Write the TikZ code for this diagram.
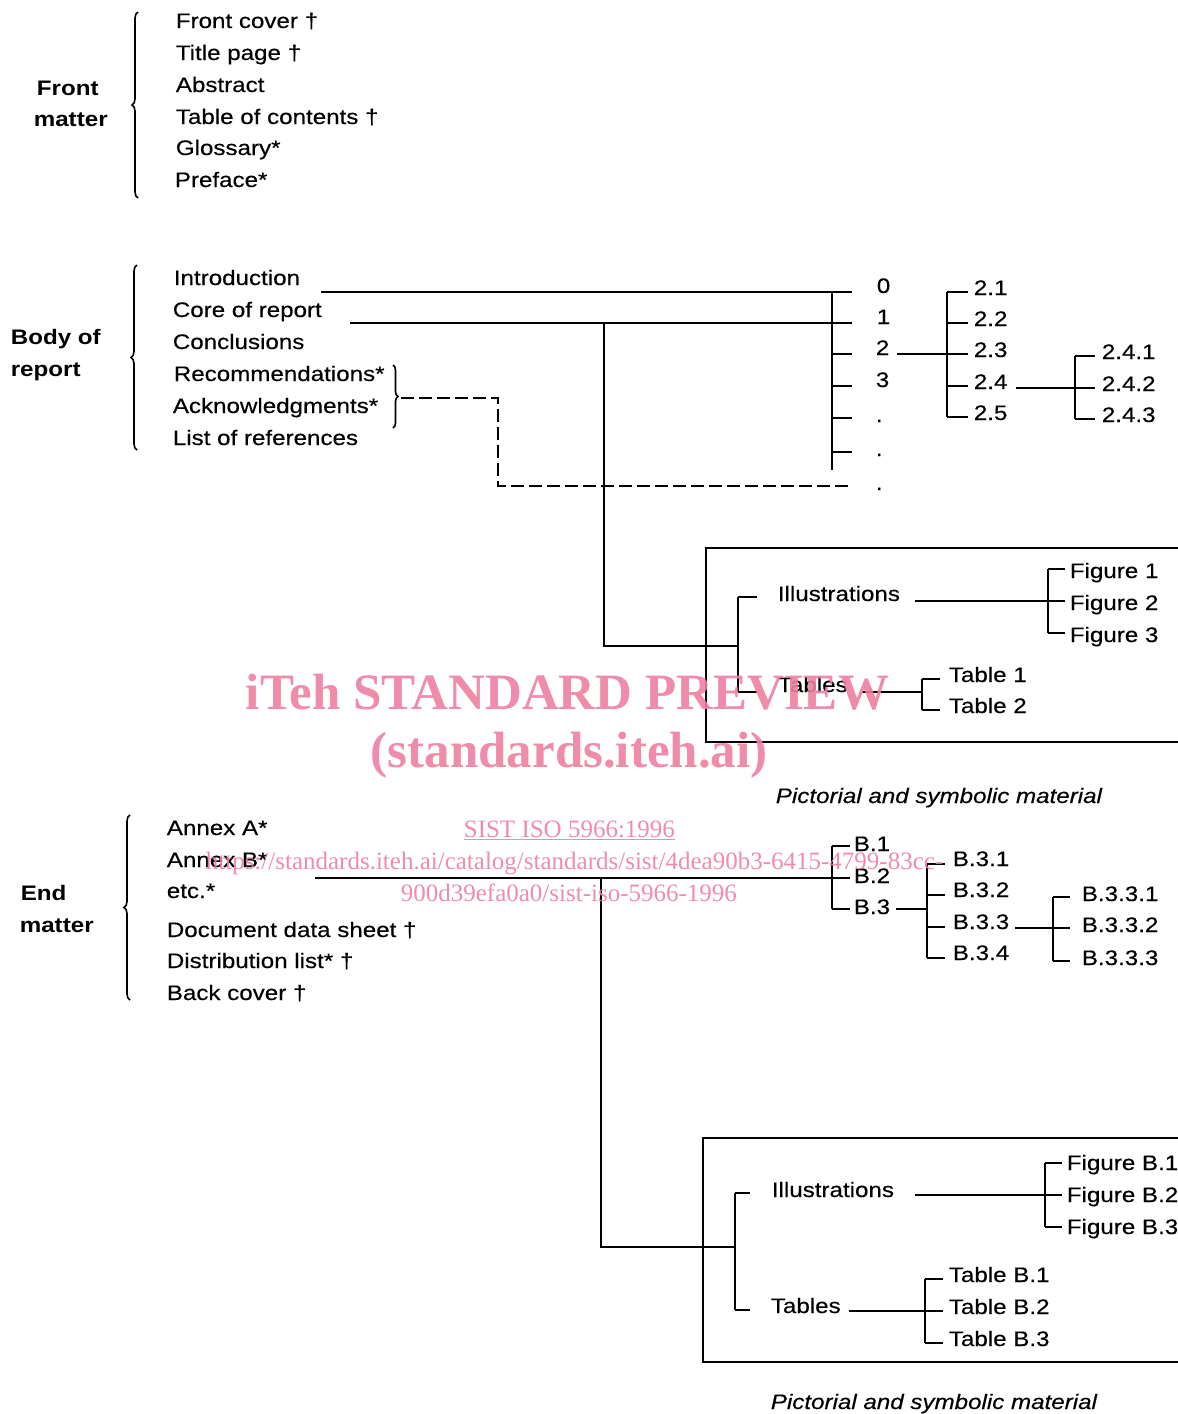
\documentclass[tikz,border=0pt]{standalone}
\usepackage{fontspec}
\setmainfont{Liberation Sans}[FakeStretch=1.15,UprightFeatures={FakeBold=0.35},ItalicFeatures={FakeBold=0.35}]
\newfontfamily\wmfont{Liberation Serif}
\usetikzlibrary{decorations.pathreplacing,calc}
\definecolor{wm}{RGB}{236,128,160}
\newcommand\tkc[3]{\coordinate (#1t) at ([xshift=-#3pt,yshift=#2pt]#1.base west);}
\begin{document}
\begin{tikzpicture}[x=1pt,y=-1pt,line width=1.7pt,
 txt/.style={anchor=base west,inner sep=0pt,font=\fontsize{21}{25}\selectfont},
 hd/.style={anchor=base west,inner sep=0pt,font=\fontsize{21}{25}\selectfont\bfseries},
 capt/.style={anchor=base west,inner sep=0pt,font=\fontsize{21}{25}\selectfont\itshape},
 brc/.style={decorate,decoration={brace,amplitude=6pt},line width=1.6pt},
 dsh/.style={dash pattern=on 13pt off 5pt},
 wmt/.style={anchor=base west,inner sep=0pt,text=wm,text opacity=0.9}]
\useasboundingbox (0,0) rectangle (1178,1414);

% ---------------- Front matter
\node[txt] (f1) at (175,28) {Front cover †};
\node[txt] (f2) at (175,60) {Title page †};
\node[txt] (f3) at (175,92) {Abstract};
\node[txt] (f4) at (175,124) {Table of contents †};
\node[txt] (f5) at (175,155) {Glossary*};
\node[txt] (f6) at (174,187) {Preface*};
\node[hd] (fm1) at (36,95) {Front};
\node[hd] (fm2) at (33,126) {matter};
\coordinate (fbA) at (138,198); \coordinate (fbB) at (138,12);
\draw[brc] (fbA) -- (fbB);

% ---------------- Body of report
\node[txt] (b1) at (173,285) {Introduction};
\node[txt] (b2) at (172,317) {Core of report};
\node[txt] (b3) at (172,349) {Conclusions};
\node[txt] (b4) at (173,381) {Recommendations*};
\node[txt] (b5) at (172,413) {Acknowledgments*};
\node[txt] (b6) at (172,445) {List of references};
\node[hd] (bm1) at (10,344) {Body of};
\node[hd] (bm2) at (10,376) {report};
\coordinate (bbA) at (137,450); \coordinate (bbB) at (137,265);
\draw[brc] (bbA) -- (bbB);
\coordinate (sbA) at (393,365); \coordinate (sbB) at (393,428);
\draw[decorate,decoration={brace,amplitude=5pt},line width=1.6pt] (sbA) -- (sbB);

% numbers 0,1,2,3,...
\node[txt] (n0) at (876,293) {0};
\node[txt] (n1) at (876,324) {1};
\node[txt] (n2) at (875,355) {2};
\node[txt] (n3) at (875,387) {3};
\node[txt] (d1) at (875,422) {.};
\node[txt] (d2) at (875,456) {.};
\node[txt] (d3) at (875,490) {.};
\tkc{n0}{1}{24}\tkc{n1}{1}{24}\tkc{n2}{1}{23}\tkc{n3}{1}{23}
\tkc{d1}{4}{23}\tkc{d2}{4}{23}\tkc{d3}{4}{23}
\coordinate (spN) at (832,0);
\coordinate (spNbot) at (832,470);
\draw (spN |- n0t) -- (spNbot);
\foreach \a in {n2t,n3t,d1t,d2t} \draw (spN |- \a) -- (\a);
\path (b1.base east) ++(20,0) coordinate (b1r);
\draw (b1r |- n0t) -- (n0t);
\path (b2.base east) ++(27,0) coordinate (b2r);
\draw (b2r |- n1t) -- (n1t);

% dashed connector
\coordinate (rb) at (401,398);
\coordinate (dk) at (498,486);
\draw[dsh] (rb) -| (dk) -- (d3t);

% 2.x
\node[txt] (l21) at (973,295) {2.1};
\node[txt] (l22) at (973,326) {2.2};
\node[txt] (l23) at (973,357) {2.3};
\node[txt] (l24) at (973,389) {2.4};
\node[txt] (l25) at (973,420) {2.5};
\tkc{l21}{3}{5}\tkc{l22}{3}{5}\tkc{l23}{3}{5}\tkc{l24}{3}{5}\tkc{l25}{3}{5}
\coordinate (spT) at (947,0);
\draw (spT |- l21t) -- (spT |- l25t);
\foreach \a in {l21t,l22t,l23t,l24t,l25t} \draw (spT |- \a) -- (\a);
\path (n2.base east) ++(7,0) coordinate (n2r);
\draw (n2r |- l23t) -- (l23t);

% 2.4.x
\node[txt] (m1) at (1101,359) {2.4.1};
\node[txt] (m2) at (1101,391) {2.4.2};
\node[txt] (m3) at (1101,422) {2.4.3};
\tkc{m1}{3}{6}\tkc{m2}{3}{6}\tkc{m3}{3}{6}
\coordinate (spM) at (1075,0);
\draw (spM |- m1t) -- (spM |- m3t);
\foreach \a in {m1t,m2t,m3t} \draw (spM |- \a) -- (\a);
\path (l24.base east) ++(8,0) coordinate (l24r);
\draw (l24r |- m2t) -- (m2t);

% ---------------- Pictorial box 1
\coordinate (B1tr) at (1182,548); \coordinate (B1tl) at (706,548);
\coordinate (B1bl) at (706,742); \coordinate (B1br) at (1182,742);
\draw (B1tr) -- (B1tl) -- (B1bl) -- (B1br);
\node[txt] (il1) at (777,601) {Illustrations};
\node[txt] (tb1) at (777,692) {Tables};
\tkc{il1}{4}{20}\tkc{tb1}{0}{20}
\coordinate (spP) at (738,0);
\draw (spP |- il1t) -- (spP |- tb1t);
\draw (spP |- il1t) -- (il1t);
\draw (spP |- tb1t) -- (tb1t);
\coordinate (cj) at (604,0);
\coordinate (bx1) at (738,646);
\draw (cj |- n1t) |- (bx1);
\node[txt] (fg1) at (1069,578) {Figure 1};
\node[txt] (fg2) at (1069,610) {Figure 2};
\node[txt] (fg3) at (1069,642) {Figure 3};
\tkc{fg1}{9}{4}\tkc{fg2}{9}{4}\tkc{fg3}{9}{4}
\coordinate (spF) at (1048,0);
\draw (spF |- fg1t) -- (spF |- fg3t);
\foreach \a in {fg1t,fg2t,fg3t} \draw (spF |- \a) -- (\a);
\path (il1.base east) ++(14,0) coordinate (il1r);
\draw (il1r |- fg2t) -- (fg2t);
\node[txt] (ta1) at (948,682) {Table 1};
\node[txt] (ta2) at (948,713) {Table 2};
\tkc{ta1}{3}{8}\tkc{ta2}{3}{8}
\coordinate (spA) at (922,0);
\draw (spA |- ta1t) -- (spA |- ta2t);
\foreach \a in {ta1t,ta2t} \draw (spA |- \a) -- (\a);
\path (tb1.base east) ++(13,0) coordinate (tb1r);
\draw (tb1r) -- (spA |- tb1r);
\node[capt] (cap1) at (775,803) {Pictorial and symbolic material};

% ---------------- End matter
\node[txt] (e1) at (166,835) {Annex A*};
\node[txt] (e2) at (166,867) {Annex B*};
\node[txt] (e3) at (166,898) {etc.*};
\node[txt] (e4) at (166,937) {Document data sheet †};
\node[txt] (e5) at (166,968) {Distribution list* †};
\node[txt] (e6) at (166,1000) {Back cover †};
\node[hd] (em1) at (20,900) {End};
\node[hd] (em2) at (19,932) {matter};
\coordinate (ebA) at (130,1000); \coordinate (ebB) at (130,815);
\draw[brc] (ebA) -- (ebB);

\node[txt] (bb1) at (853,851) {B.1};
\node[txt] (bb2) at (853,883) {B.2};
\node[txt] (bb3) at (853,914) {B.3};
\tkc{bb1}{5}{3}\tkc{bb2}{5}{3}\tkc{bb3}{5}{3}
\coordinate (spB) at (832,0);
\draw (spB |- bb1t) -- (spB |- bb3t);
\foreach \a in {bb1t,bb2t,bb3t} \draw (spB |- \a) -- (\a);
\coordinate (asx) at (315,0);
\draw (asx |- bb2t) -- (bb2t);

\node[txt] (c1) at (952,866) {B.3.1};
\node[txt] (c2) at (952,897) {B.3.2};
\node[txt] (c3) at (952,929) {B.3.3};
\node[txt] (c4) at (952,960) {B.3.4};
\tkc{c1}{2}{7}\tkc{c2}{2}{7}\tkc{c3}{2}{7}\tkc{c4}{2}{7}
\coordinate (spC) at (927,0);
\draw (spC |- c1t) -- (spC |- c4t);
\foreach \a in {c1t,c2t,c3t,c4t} \draw (spC |- \a) -- (\a);
\path (bb3.base east) ++(5,0) coordinate (bb3r);
\draw (bb3r |- bb3t) -- (spC |- bb3t);

\node[txt] (q1) at (1081,901) {B.3.3.1};
\node[txt] (q2) at (1081,932) {B.3.3.2};
\node[txt] (q3) at (1081,965) {B.3.3.3};
\tkc{q1}{4}{11}\tkc{q2}{4}{11}\tkc{q3}{4}{11}
\coordinate (spQ) at (1053,0);
\draw (spQ |- q1t) -- (spQ |- q3t);
\foreach \a in {q1t,q2t,q3t} \draw (spQ |- \a) -- (\a);
\path (c3.base east) ++(5,0) coordinate (c3r);
\draw (c3r |- q2t) -- (q2t);

% ---------------- Pictorial box 2
\coordinate (ej) at (601,0);
\coordinate (bx2) at (735,1247);
\draw (ej |- bb2t) |- (bx2);
\coordinate (B2tr) at (1182,1138); \coordinate (B2tl) at (703,1138);
\coordinate (B2bl) at (703,1362); \coordinate (B2br) at (1182,1362);
\draw (B2tr) -- (B2tl) -- (B2bl) -- (B2br);
\node[txt] (il2) at (771,1197) {Illustrations};
\node[txt] (tb2) at (770,1313) {Tables};
\tkc{il2}{4}{21}\tkc{tb2}{3}{20}
\coordinate (spR) at (735,0);
\draw (spR |- il2t) -- (spR |- tb2t);
\draw (spR |- il2t) -- (il2t);
\draw (spR |- tb2t) -- (tb2t);
\node[txt] (gb1) at (1066,1170) {Figure B.1};
\node[txt] (gb2) at (1066,1202) {Figure B.2};
\node[txt] (gb3) at (1066,1234) {Figure B.3};
\tkc{gb1}{7}{4}\tkc{gb2}{7}{4}\tkc{gb3}{7}{4}
\coordinate (spG) at (1045,0);
\draw (spG |- gb1t) -- (spG |- gb3t);
\foreach \a in {gb1t,gb2t,gb3t} \draw (spG |- \a) -- (\a);
\path (il2.base east) ++(20,0) coordinate (il2r);
\draw (il2r |- gb2t) -- (gb2t);
\node[txt] (tt1) at (948,1282) {Table B.1};
\node[txt] (tt2) at (948,1314) {Table B.2};
\node[txt] (tt3) at (948,1346) {Table B.3};
\tkc{tt1}{3}{5}\tkc{tt2}{3}{5}\tkc{tt3}{3}{5}
\coordinate (spS) at (925,0);
\draw (spS |- tt1t) -- (spS |- tt3t);
\foreach \a in {tt1t,tt2t,tt3t} \draw (spS |- \a) -- (\a);
\path (tb2.base east) ++(7,0) coordinate (tb2r);
\draw (tb2r |- tt2t) -- (tt2t);
\node[capt] (cap2) at (770,1409) {Pictorial and symbolic material};

% ---------------- watermark
\node[wmt,font=\wmfont\bfseries\fontsize{51}{60}\selectfont] (w1) at (245,709) {iTeh STANDARD PREVIEW};
\node[wmt,font=\wmfont\bfseries\fontsize{51}{60}\selectfont] (w2) at (370,767) {(standards.iteh.ai)};
\node[wmt,font=\wmfont\fontsize{25}{30}\selectfont] (w3) at (463,837) {\underline{SIST ISO 5966:1996}};
\node[wmt,font=\wmfont\fontsize{25}{30}\selectfont] (w4) at (205,869) {https://standards.iteh.ai/catalog/standards/sist/4dea90b3-6415-4799-83cc-};
\node[wmt,font=\wmfont\fontsize{25}{30}\selectfont] (w5) at (400,901) {900d39efa0a0/sist-iso-5966-1996};
\end{tikzpicture}
\end{document}
